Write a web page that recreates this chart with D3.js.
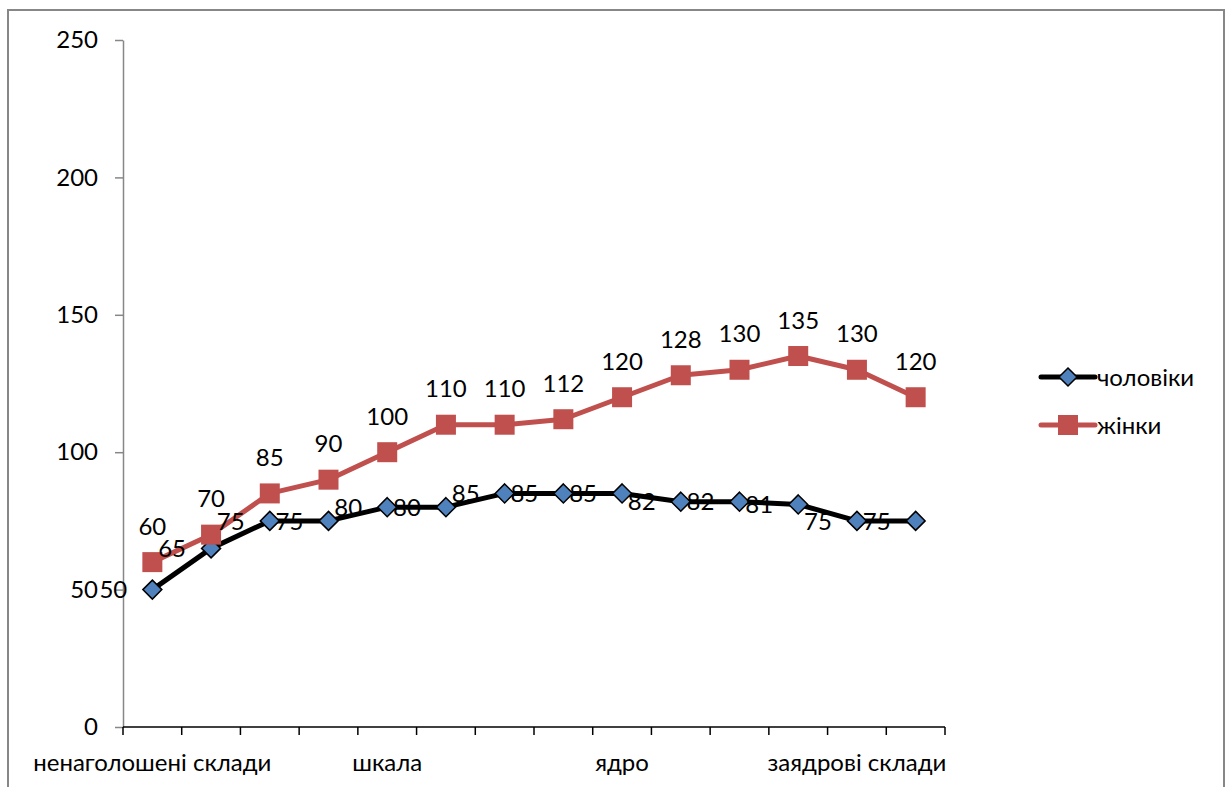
<!DOCTYPE html>
<html>
<head>
<meta charset="utf-8">
<script src="https://cdn.jsdelivr.net/npm/d3@7"></script>
<style>
  html, body { margin: 0; padding: 0; background: #fff; }
  svg { display: block; font-family: Lato, "Open Sans", sans-serif; }
</style>
</head>
<body>
<svg id="chart" width="1227" height="787"></svg>
<script>
// Syllable positions along the word (14 points); only every 4th one is labelled
const categories = ["ненаголошені склади", "", "", "", "шкала", "", "", "", "ядро", "", "", "", "заядрові склади", ""];
const men = [50, 65, 75, 75, 80, 80, 85, 85, 85, 82, 82, 81, 75, 75];
const women = [60, 70, 85, 90, 100, 110, 110, 112, 120, 128, 130, 135, 130, 120];
const seriesNames = ["чоловіки", "жінки"];
const yTicks = [0, 50, 100, 150, 200, 250];

const svg = d3.select("#chart");
const FONT = 24;

// Outer frame
svg.append("rect")
  .attr("x", 8).attr("y", 10).attr("width", 1216).attr("height", 800)
  .attr("fill", "none").attr("stroke", "#878787").attr("stroke-width", 2);

const x = d3.scaleBand().domain(d3.range(categories.length)).range([123, 945]);
const y = d3.scaleLinear().domain([0, 250]).range([727, 40]);
const cx = i => x(i) + x.bandwidth() / 2;

// Y axis (grey)
const yAxis = svg.append("g").attr("transform", "translate(123,0)")
  .call(d3.axisLeft(y).tickValues(yTicks).tickSize(8).tickPadding(17).tickSizeOuter(0));
yAxis.select(".domain").attr("stroke", "#878787").attr("stroke-width", 1.5);
yAxis.selectAll(".tick line").attr("stroke", "#878787").attr("stroke-width", 1.5);
yAxis.selectAll("text").attr("font-size", FONT).attr("fill", "#000")
  .attr("font-family", "Lato, 'Open Sans', sans-serif");

// X axis (black), ticks at band boundaries
const xAxisG = svg.append("g");
xAxisG.append("line").attr("x1", 123).attr("x2", 945).attr("y1", 727).attr("y2", 727)
  .attr("stroke", "#000").attr("stroke-width", 1.5);
const bounds = d3.range(categories.length + 1).map(i => i < categories.length ? x(i) : x.range()[1]);
xAxisG.selectAll("line.tick").data(bounds).join("line").attr("class", "tick")
  .attr("x1", d => d).attr("x2", d => d).attr("y1", 727).attr("y2", 735)
  .attr("stroke", "#000").attr("stroke-width", 1.5);
xAxisG.selectAll("text").data(categories.map((c, i) => ({c, i})).filter(d => d.c))
  .join("text")
  .attr("x", d => cx(d.i)).attr("y", 771)
  .attr("text-anchor", "middle").attr("font-size", FONT).attr("fill", "#000")
  .text(d => d.c);

const line = d3.line().x((d, i) => cx(i)).y(d => y(d));
const diamond = s => `M0,${-s}L${s},0L0,${s}L${-s},0Z`;

// Men series
svg.append("path").datum(men).attr("d", line)
  .attr("fill", "none").attr("stroke", "#000").attr("stroke-width", 5).attr("stroke-linejoin", "round");
svg.selectAll("path.mm").data(men).join("path").attr("class", "mm")
  .attr("transform", (d, i) => `translate(${cx(i)},${y(d)})`)
  .attr("d", diamond(9.5))
  .attr("fill", "#4F81BD").attr("stroke", "#000").attr("stroke-width", 1.5);

// Women series
svg.append("path").datum(women).attr("d", line)
  .attr("fill", "none").attr("stroke", "#C0504D").attr("stroke-width", 5).attr("stroke-linejoin", "round");
svg.selectAll("rect.wm").data(women).join("rect").attr("class", "wm")
  .attr("x", (d, i) => cx(i) - 10).attr("y", d => y(d) - 10)
  .attr("width", 20).attr("height", 20).attr("fill", "#C0504D");

// Data labels
svg.selectAll("text.ml").data(men).join("text").attr("class", "ml")
  .attr("x", (d, i) => cx(i) - 39).attr("y", d => y(d))
  .attr("dy", "0.36em").attr("text-anchor", "middle").attr("font-size", FONT)
  .text(d => d);
svg.selectAll("text.wl").data(women).join("text").attr("class", "wl")
  .attr("x", (d, i) => cx(i)).attr("y", d => y(d) - 36)
  .attr("dy", "0.36em").attr("text-anchor", "middle").attr("font-size", FONT)
  .text(d => d);

// Legend
const legend = svg.append("g");
const ly = [377, 425];
legend.append("line").attr("x1", 1041).attr("x2", 1095).attr("y1", ly[0]).attr("y2", ly[0])
  .attr("stroke", "#000").attr("stroke-width", 5).attr("stroke-linecap", "round");
legend.append("path").attr("transform", `translate(1068,${ly[0]})`).attr("d", diamond(9))
  .attr("fill", "#4F81BD").attr("stroke", "#000").attr("stroke-width", 1.5);
legend.append("line").attr("x1", 1041).attr("x2", 1095).attr("y1", ly[1]).attr("y2", ly[1])
  .attr("stroke", "#C0504D").attr("stroke-width", 5).attr("stroke-linecap", "round");
legend.append("rect").attr("x", 1058).attr("y", ly[1] - 10).attr("width", 20).attr("height", 20)
  .attr("fill", "#C0504D");
legend.selectAll("text").data(seriesNames).join("text")
  .attr("x", 1097).attr("y", (d, i) => ly[i]).attr("dy", "0.36em")
  .attr("font-size", FONT).text(d => d);
</script>
</body>
</html>
